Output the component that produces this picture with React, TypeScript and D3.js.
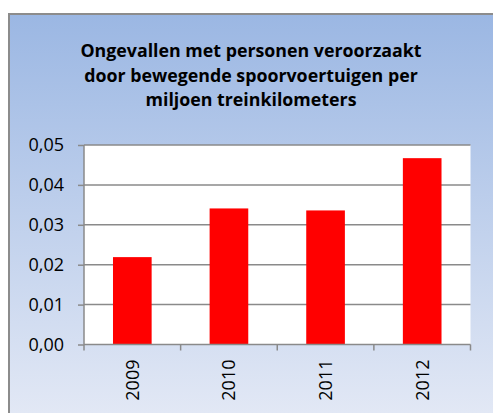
import { useEffect, useRef } from 'react'
import * as d3 from 'd3'

const years = ['2009', '2010', '2011', '2012']
const values = [0.0219, 0.0341, 0.0336, 0.0467]
const yTicks = [0, 0.01, 0.02, 0.03, 0.04, 0.05]
const titleLines = [
  'Ongevallen met personen veroorzaakt',
  'door bewegende spoorvoertuigen per',
  'miljoen treinkilometers',
]

export default function App() {
  const svgRef = useRef<SVGSVGElement>(null)
  const width = 493
  const height = 413

  useEffect(() => {
    if (!svgRef.current) return
    const svg = d3.select(svgRef.current)
    svg.selectAll('*').remove()

    const plot = { left: 84, top: 145, right: 470.5, bottom: 344.5 }
    const font = 'Open Sans, sans-serif'

    // Background gradient
    const defs = svg.append('defs')
    const grad = defs
      .append('linearGradient')
      .attr('id', 'bg')
      .attr('x1', '0%')
      .attr('x2', '0%')
      .attr('y1', '0%')
      .attr('y2', '100%')
    grad.append('stop').attr('offset', '0%').attr('stop-color', '#9bb7e3')
    grad.append('stop').attr('offset', '100%').attr('stop-color', '#e2e8f5')

    svg
      .append('rect')
      .attr('x', 9)
      .attr('y', 14)
      .attr('width', width - 9)
      .attr('height', height - 14)
      .attr('fill', 'url(#bg)')
    // top and left border
    svg
      .append('path')
      .attr('d', `M9,${height} L9,14 L${width},14`)
      .attr('fill', 'none')
      .attr('stroke', '#8c8c8c')
      .attr('stroke-width', 2)

    // Title
    svg
      .append('g')
      .selectAll('text')
      .data(titleLines)
      .enter()
      .append('text')
      .attr('x', 251)
      .attr('y', (_, i) => 57 + i * 24.5)
      .attr('text-anchor', 'middle')
      .attr('font-family', font)
      .attr('font-weight', 'bold')
      .attr('font-size', 17.8)
      .attr('fill', '#000')
      .text((d) => d)

    const x = d3.scaleBand<string>().domain(years).range([plot.left, plot.right])
    const y = d3.scaleLinear().domain([0, 0.05]).range([plot.bottom, plot.top])

    // Plot area
    svg
      .append('rect')
      .attr('x', plot.left)
      .attr('y', plot.top)
      .attr('width', plot.right - plot.left)
      .attr('height', plot.bottom - plot.top)
      .attr('fill', '#fff')

    // Gridlines
    svg
      .append('g')
      .selectAll('line')
      .data(yTicks.slice(1))
      .enter()
      .append('line')
      .attr('x1', plot.left)
      .attr('x2', plot.right)
      .attr('y1', (d) => y(d))
      .attr('y2', (d) => y(d))
      .attr('stroke', '#8a8a8a')
      .attr('stroke-width', 1.5)

    // Bars
    const barW = x.bandwidth() * 0.4
    svg
      .append('g')
      .selectAll('rect')
      .data(values)
      .enter()
      .append('rect')
      .attr('x', (_, i) => (x(years[i]) || 0) + (x.bandwidth() - barW) / 2)
      .attr('y', (d) => y(d))
      .attr('width', barW)
      .attr('height', (d) => plot.bottom - y(d))
      .attr('fill', '#ff0000')

    // Y axis
    const yAxis = d3
      .axisLeft(y)
      .tickValues(yTicks)
      .tickSize(6)
      .tickFormat((d) => d3.format('.2f')(d as number).replace('.', ','))
    const yg = svg
      .append('g')
      .attr('transform', `translate(${plot.left},0)`)
      .call(yAxis)
    yg.selectAll('path,line').attr('stroke', '#8a8a8a').attr('stroke-width', 1.5)
    yg.select('.domain').attr('d', `M0,${plot.top}V${plot.bottom}`)
    yg.selectAll('text')
      .attr('font-family', font)
      .attr('font-size', 18)
      .attr('fill', '#000')
      .attr('x', -20)

    // X axis
    const xAxis = d3.axisBottom(x).tickSize(0)
    const xg = svg
      .append('g')
      .attr('transform', `translate(0,${plot.bottom})`)
      .call(xAxis)
    xg.select('.domain')
      .attr('d', `M${plot.left},0H${plot.right}`)
      .attr('stroke', '#8a8a8a')
      .attr('stroke-width', 1.5)
    xg.selectAll('text')
      .attr('font-family', font)
      .attr('font-size', 18)
      .attr('fill', '#000')
      .attr('transform', 'rotate(-90)')
      .attr('x', -15)
      .attr('y', 0)
      .attr('dy', '0.35em')
      .attr('text-anchor', 'end')

    // X tick marks at band boundaries
    const bounds = years.map((yr) => x(yr) || 0).concat([plot.right])
    xg.selectAll('line.bound')
      .data(bounds)
      .enter()
      .append('line')
      .attr('class', 'bound')
      .attr('x1', (d) => d)
      .attr('x2', (d) => d)
      .attr('y1', 0)
      .attr('y2', 6)
      .attr('stroke', '#8a8a8a')
      .attr('stroke-width', 1.5)
  }, [])

  return (
    <svg
      ref={svgRef}
      width={width}
      height={height}
      style={{ position: 'absolute', left: 0, top: 0, display: 'block' }}
    />
  )
}
